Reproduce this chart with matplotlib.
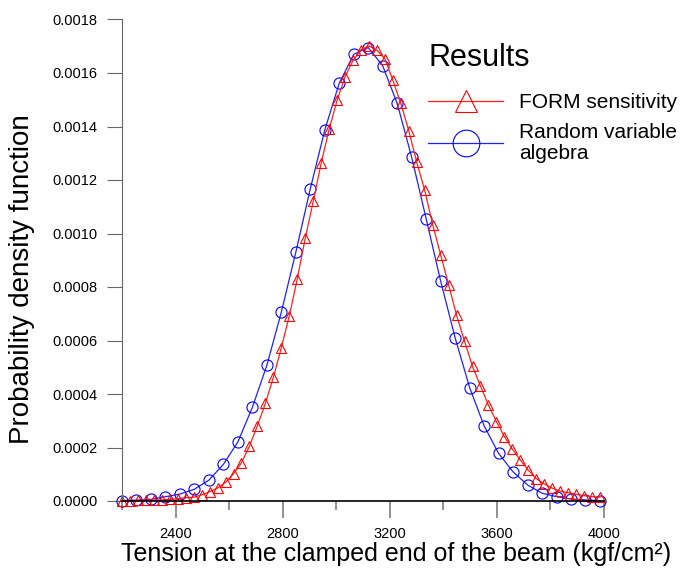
import numpy as np
import matplotlib
matplotlib.use("Agg")
import matplotlib.pyplot as plt
from matplotlib.ticker import FixedLocator

plt.rcParams['font.family'] = ['Liberation Sans', 'DejaVu Sans']

# ---- data -------------------------------------------------------------------
# FORM sensitivity (red triangles)
x_form = np.linspace(2200, 3985, 61)
pdf_form = [1e-6, 1.5e-6, 2e-6, 2.5e-6, 3e-6, 4e-6, 6e-6, 8.6e-6, 1.2e-5, 1.4e-5,
            2.3e-5, 3.5e-5, 4.85e-5, 7.0e-5, 1.02e-4, 1.43e-4, 2.05e-4, 2.82e-4, 3.65e-4, 4.62e-4,
            5.73e-4, 6.92e-4, 8.30e-4, 9.82e-4, 1.120e-3, 1.263e-3, 1.389e-3, 1.498e-3, 1.586e-3, 1.647e-3,
            1.687e-3, 1.701e-3, 1.685e-3, 1.653e-3, 1.573e-3, 1.486e-3, 1.384e-3, 1.266e-3, 1.161e-3, 1.033e-3,
            9.20e-4, 8.08e-4, 6.94e-4, 5.97e-4, 5.03e-4, 4.30e-4, 3.58e-4, 2.97e-4, 2.41e-4, 1.94e-4,
            1.53e-4, 1.15e-4, 8.4e-5, 6.4e-5, 4.8e-5, 3.7e-5, 3.1e-5, 2.5e-5, 2.0e-5, 1.6e-5,
            1.5e-5]

# Random variable algebra (blue circles)
x_rva = np.linspace(2200, 3985, 34)
pdf_rva = [1e-6, 3e-6, 6e-6, 1.6e-5, 2.6e-5, 4.4e-5, 7.8e-5, 1.37e-4, 2.21e-4, 3.50e-4,
           5.07e-4, 7.06e-4, 9.30e-4, 1.167e-3, 1.387e-3, 1.562e-3, 1.670e-3, 1.695e-3, 1.627e-3, 1.486e-3,
           1.285e-3, 1.055e-3, 8.22e-4, 6.10e-4, 4.24e-4, 2.81e-4, 1.78e-4, 1.09e-4, 6.0e-5, 2.9e-5,
           1.6e-5, 7.5e-6, 4e-6, 1e-6]

xticks = [2400, 2800, 3200, 3600, 4000]
xminor = [2200, 2600, 3000, 3400, 3800]
yticks = np.arange(0, 0.00181, 0.0002)

# ---- figure -------------------------------------------------------------------
fig = plt.figure(figsize=(6.8, 5.79), dpi=100)
ax = fig.add_axes([122/680, 78/579, 482/680, 481.5/579])

l_rva, = ax.plot(x_rva, pdf_rva, color='#2020ff', lw=0.9, marker='o', ms=8,
                 mfc='none', mec='blue', mew=0.8, clip_on=False)
l_form, = ax.plot(x_form, pdf_form, color='#ff2020', lw=0.9, marker='^', ms=6.5,
                  mfc='none', mec='red', mew=0.8, clip_on=False)

ax.set_xlim(2200, 4000)
ax.set_ylim(0, 0.0018)

ax.xaxis.set_major_locator(FixedLocator(xticks))
ax.xaxis.set_minor_locator(FixedLocator(xminor))
ax.set_yticks(yticks)
ax.set_yticklabels(['%.4f' % v for v in yticks])

ax.tick_params(axis='x', which='major', direction='out', length=12, width=1.3,
               color='#888888', labelsize=10.5, pad=7)
ax.tick_params(axis='x', which='minor', direction='out', length=6.5, width=1.3,
               color='#888888')
ax.tick_params(axis='y', which='major', direction='out', length=11, width=0.8,
               color='#666666', labelsize=10.5, pad=6.5)

for s in ['top', 'right']:
    ax.spines[s].set_visible(False)
ax.spines['bottom'].set_linewidth(1.2)
ax.spines['left'].set_color('#666666')
ax.spines['left'].set_linewidth(0.8)

ax.set_xlabel('Tension at the clamped end of the beam (kgf/cm\u00b2)', fontsize=18)
ax.xaxis.set_label_coords(0.568, -0.086)
ax.set_ylabel('Probability density function', fontsize=20)
ax.yaxis.set_label_coords(-0.18, 0.461)

leg = ax.legend([l_form, l_rva], ['FORM sensitivity', 'Random variable\nalgebra'],
                title='Results', title_fontsize=22, fontsize=15, frameon=False,
                loc='upper left', bbox_to_anchor=(418/680, 1 - 33/579),
                bbox_transform=fig.transFigure, handlelength=3.6, handletextpad=0.75,
                markerscale=2.4, labelspacing=0.55, borderpad=0)
leg._legend_box.align = 'left'
leg._legend_box.sep = 14
leg.get_texts()[1].set_linespacing(1.1)

fig.savefig('out.png', dpi=100)
